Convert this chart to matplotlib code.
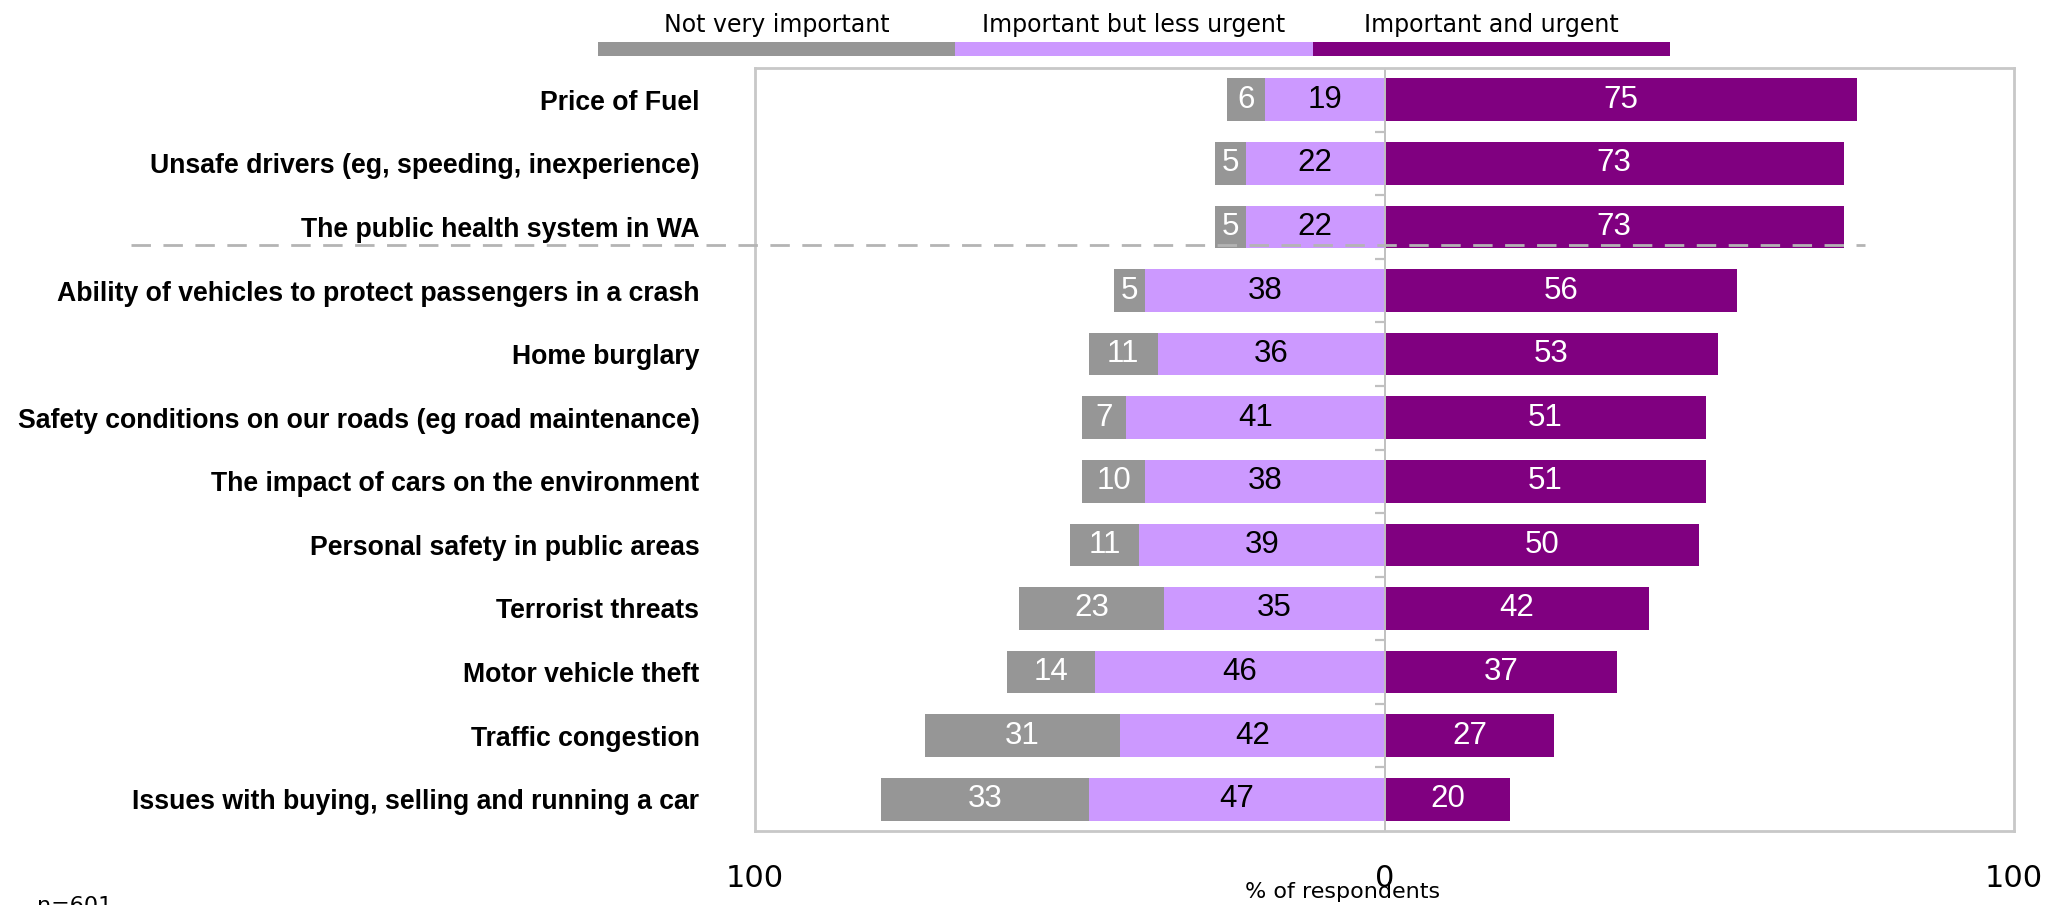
import numpy as np
import matplotlib
matplotlib.use('Agg')
import matplotlib.pyplot as plt

categories = ['Price of Fuel',
              'Unsafe drivers (eg, speeding, inexperience)',
              'The public health system in WA',
              'Ability of vehicles to protect passengers in a crash',
              'Home burglary',
              'Safety conditions on our roads (eg road maintenance)',
              'The impact of cars on the environment',
              'Personal safety in public areas',
              'Terrorist threats',
              'Motor vehicle theft',
              'Traffic congestion',
              'Issues with buying, selling and running a car']
not_important = [6, 5, 5, 5, 11, 7, 10, 11, 23, 14, 31, 33]
less_urgent = [19, 22, 22, 38, 36, 41, 38, 39, 35, 46, 42, 47]
urgent = [75, 73, 73, 56, 53, 51, 51, 50, 42, 37, 27, 20]
series_names = ['Not very important', 'Important but less urgent', 'Important and urgent']
xticks = [-100, 0, 100]
xtick_labels = ['100', '0', '100']

GREY = '#969696'
LAV = '#cc99ff'
PURP = '#800080'
FRAME = '#c8c8c8'

fig = plt.figure(figsize=(20.48, 9.05), dpi=100)
ax = fig.add_axes([755/2048, 1-831/905, 1259/2048, 763/905])

y = np.arange(len(categories))
ni = np.array(not_important)
lu = np.array(less_urgent)
ug = np.array(urgent)
h = 0.67

b_lu = ax.barh(y, -lu, height=h, color=LAV, left=0)
b_ni = ax.barh(y, -ni, height=h, color=GREY, left=-lu)
b_ug = ax.barh(y, ug, height=h, color=PURP, left=0)

num_font = dict(family='Liberation Sans', fontsize=22.5)
ax.bar_label(b_ni, labels=[str(v) for v in ni], label_type='center', color='white', **num_font)
ax.bar_label(b_lu, labels=[str(v) for v in lu], label_type='center', color='black', **num_font)
ax.bar_label(b_ug, labels=[str(v) for v in ug], label_type='center', color='white', **num_font)

ax.set_xlim(-100, 100)
ax.set_ylim(len(categories) - 0.5, -0.5)

# center line + little ticks at row boundaries
ax.axvline(0, color='#c0c0c0', lw=1.4, zorder=1)
bounds = y[:-1] + 0.5
ax.plot(np.zeros(len(bounds)), bounds, linestyle='none', marker=0,
        markersize=7.5, markeredgewidth=1.6, color='#c0c0c0', clip_on=False)

# dashed separator under the top three
ax.plot([-0.496, 0.882], [2.29, 2.29], transform=ax.get_yaxis_transform(),
        color='#b4b4b4', lw=2, ls=(0, (7, 4.5)), clip_on=False, zorder=5)

ax.set_yticks(y)
ax.set_yticklabels(categories, family='Liberation Sans', fontweight='bold', fontsize=19.2)
ax.tick_params(axis='y', length=0, pad=40)
ax.set_xticks(xticks)
ax.set_xticklabels(xtick_labels, family='DejaVu Sans', fontsize=22)
ax.tick_params(axis='x', length=0, pad=24)

for sp in ax.spines.values():
    sp.set_color(FRAME)
    sp.set_linewidth(2)

ax.text(0.467, -0.08, '% of respondents', transform=ax.transAxes, ha='center', va='center',
        fontsize=16, family='DejaVu Sans')
fig.text(37/2048, 1-896/905, 'n=601', ha='left', va='top', fontsize=16, family='DejaVu Sans')

# legend strip at the top
lax = fig.add_axes([598/2048, 1-56/905, 1072/2048, 14/905])
pos = np.arange(len(series_names))
lax.barh(0, np.ones(len(series_names)), left=pos, height=1, color=[GREY, LAV, PURP])
lax.set_xlim(0, len(series_names))
lax.set_ylim(-0.5, 0.5)
lax.axis('off')
for i, name in enumerate(series_names):
    fig.text((598 + 1072/3*(i+0.5))/2048, 1-25/905, name, ha='center', va='center',
             fontsize=17, family='DejaVu Sans')

fig.savefig('out.png', dpi=100)
